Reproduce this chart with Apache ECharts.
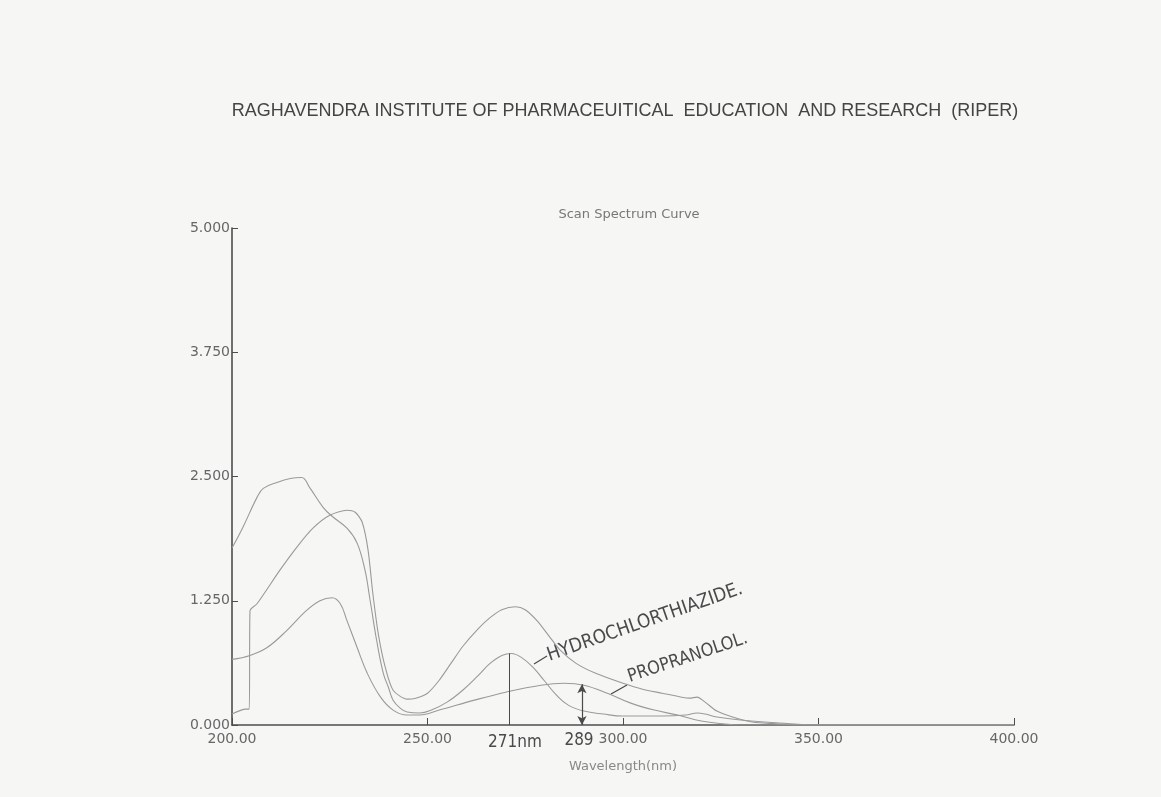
<!DOCTYPE html>
<html>
<head>
<meta charset="utf-8">
<script src="https://cdn.jsdelivr.net/npm/echarts@6/dist/echarts.min.js"></script>
<style>
  html, body { margin: 0; padding: 0; background: #f6f6f5; }
  #chart { width: 1161px; height: 797px; }
</style>
</head>
<body>
<div id="chart"></div>
<script>
// curve with the 2.5 band near 218 nm and the 0.72 peak at 271 nm
const upperWl = [200, 202.8, 206.4, 208, 211.5, 214.9, 217.8, 220, 223.3, 225.6, 229.4, 232, 234, 235.3, 237, 238.7, 240, 241.2, 243, 244.8, 248, 251, 255, 259, 263, 266, 269, 271.5, 274, 277, 280, 283, 286, 290, 295, 300, 310, 316, 319, 321, 324, 330, 340, 350, 400]
const upperAbs = [1.78, 1.99, 2.29, 2.38, 2.44, 2.48, 2.49, 2.38, 2.19, 2.10, 1.98, 1.83, 1.56, 1.26, 0.85, 0.52, 0.38, 0.25, 0.17, 0.13, 0.12, 0.15, 0.23, 0.35, 0.50, 0.62, 0.70, 0.72, 0.68, 0.58, 0.44, 0.30, 0.20, 0.14, 0.11, 0.09, 0.09, 0.10, 0.12, 0.11, 0.08, 0.05, 0.02, 0, 0]

// curve with the step near 204 nm and the 1.19 peak near 272 nm
const mixWl = [200, 203.5, 204.4, 204.6, 206.4, 212.3, 216.6, 220.7, 225, 229.4, 231.5, 233.3, 234.8, 236, 237.4, 239.2, 241.2, 244.8, 247, 250, 253, 256, 259, 263, 266, 269, 272.5, 275, 278, 281, 284, 288, 293, 300, 305, 310, 315, 317, 319, 321, 324, 328, 333, 340, 345, 400]
const mixAbs = [0.11, 0.16, 0.16, 1.15, 1.22, 1.56, 1.79, 1.98, 2.11, 2.16, 2.14, 2.04, 1.76, 1.33, 0.92, 0.58, 0.35, 0.26, 0.27, 0.32, 0.45, 0.62, 0.79, 0.97, 1.08, 1.16, 1.19, 1.16, 1.05, 0.90, 0.75, 0.62, 0.52, 0.42, 0.36, 0.32, 0.28, 0.27, 0.28, 0.23, 0.14, 0.08, 0.03, 0.01, 0, 0]

// propranolol curve, broad band near 289 nm
const propWl = [200, 204.6, 209, 214, 219, 222.5, 225.6, 227.7, 229.4, 232, 234.6, 238, 241.2, 244.8, 248, 253, 262, 270, 279, 285, 290, 296, 302, 308, 314, 320, 326, 330, 400]
const propAbs = [0.66, 0.70, 0.78, 0.95, 1.15, 1.25, 1.28, 1.22, 1.05, 0.78, 0.52, 0.28, 0.15, 0.10, 0.10, 0.15, 0.25, 0.33, 0.40, 0.42, 0.40, 0.32, 0.22, 0.15, 0.10, 0.04, 0.01, 0, 0]

const xTicks = { min: 200, max: 400, step: 50 }
const yTicks = { min: 0, max: 5, step: 1.25 }

const peakHctz = { wl: 271, abs: 0.72 }
const peakProp = { wl: 289.5, abs: 0.41 }

const lineColor = '#9a9a9a'
const penColor = '#4a4a4a'
const handFont = '"Liberation Sans Narrow", "DejaVu Sans Condensed", sans-serif'

function pairs(xs, ys) {
  return xs.map((x, i) => [x, ys[i]])
}

function curve(name, xs, ys, extra) {
  return Object.assign({
    name,
    type: 'line',
    data: pairs(xs, ys),
    showSymbol: false,
    smooth: 0.4,
    lineStyle: { color: lineColor, width: 1.1 },
    animation: false,
    z: 3
  }, extra || {})
}

const chart = echarts.init(document.getElementById('chart'))

chart.setOption({
  backgroundColor: '#f6f6f5',
  title: [
    {
      text: 'RAGHAVENDRA INSTITUTE OF PHARMACEUITICAL  EDUCATION  AND RESEARCH  (RIPER)',
      left: 620,
      textAlign: 'center',
      top: 97,
      textStyle: { fontFamily: '"Liberation Sans Narrow", sans-serif', fontSize: 18, fontWeight: 'normal', color: '#444' }
    },
    {
      text: 'Scan Spectrum Curve',
      left: 624,
      textAlign: 'center',
      top: 203,
      textStyle: { fontFamily: '"DejaVu Sans", sans-serif', fontSize: 13, fontWeight: 'normal', color: '#777' }
    }
  ],
  grid: { left: 232, right: 147, top: 228, bottom: 72 },
  xAxis: {
    type: 'value',
    min: xTicks.min,
    max: xTicks.max,
    interval: xTicks.step,
    name: 'Wavelength(nm)',
    nameLocation: 'middle',
    nameGap: 35,
    nameTextStyle: { fontFamily: '"DejaVu Sans", sans-serif', fontSize: 13, color: '#888' },
    axisLine: { lineStyle: { color: '#4d4d4d', width: 1.6 } },
    axisTick: { inside: true, length: 7, lineStyle: { color: '#4d4d4d' } },
    axisLabel: {
      formatter: (v) => v.toFixed(2),
      fontFamily: '"DejaVu Sans", sans-serif',
      fontSize: 14,
      color: '#666',
      margin: 7
    },
    splitLine: { show: false }
  },
  yAxis: {
    type: 'value',
    min: yTicks.min,
    max: yTicks.max,
    interval: yTicks.step,
    axisLine: { show: true, lineStyle: { color: '#4d4d4d', width: 1.6 } },
    axisTick: { show: true, inside: true, length: 6, lineStyle: { color: '#4d4d4d' } },
    axisLabel: {
      formatter: (v) => v.toFixed(3),
      fontFamily: '"DejaVu Sans", sans-serif',
      fontSize: 14,
      color: '#666',
      margin: 2
    },
    splitLine: { show: false }
  },
  series: [
    curve('upper', upperWl, upperAbs, {
      markLine: {
        silent: true,
        symbol: ['none', 'none'],
        label: { show: false },
        lineStyle: { color: penColor, type: 'solid', width: 1 },
        data: [[{ coord: [peakHctz.wl, 0] }, { coord: [peakHctz.wl, peakHctz.abs] }]]
      }
    }),
    curve('mixture', mixWl, mixAbs, { smooth: 0.25 }),
    curve('propranolol', propWl, propAbs, {
      markLine: {
        silent: true,
        symbol: ['arrow', 'arrow'],
        symbolSize: [7, 9],
        label: { show: false },
        lineStyle: { color: penColor, type: 'solid', width: 1.2 },
        data: [[{ coord: [peakProp.wl, 0] }, { coord: [peakProp.wl, peakProp.abs] }]]
      }
    })
  ],
  graphic: [
    {
      type: 'text', x: 551, y: 665, rotation: 0.335,
      style: { text: 'HYDROCHLORTHIAZIDE.', fontFamily: handFont, fontSize: 19, fill: penColor, align: 'left', verticalAlign: 'bottom' }
    },
    { type: 'line', shape: { x1: 534, y1: 664, x2: 547, y2: 656 }, style: { stroke: penColor, lineWidth: 1.3 } },
    {
      type: 'text', x: 631, y: 686, rotation: 0.32,
      style: { text: 'PROPRANOLOL.', fontFamily: handFont, fontSize: 18, fill: penColor, align: 'left', verticalAlign: 'bottom' }
    },
    { type: 'line', shape: { x1: 611, y1: 694, x2: 627, y2: 685 }, style: { stroke: penColor, lineWidth: 1.3 } },
    {
      type: 'text', x: 515, y: 743,
      style: { text: '271nm', fontFamily: handFont, fontSize: 17, fill: penColor, align: 'center', verticalAlign: 'middle' }
    },
    {
      type: 'text', x: 579, y: 741,
      style: { text: '289', fontFamily: handFont, fontSize: 17, fill: penColor, align: 'center', verticalAlign: 'middle' }
    }
  ]
})
</script>
</body>
</html>
